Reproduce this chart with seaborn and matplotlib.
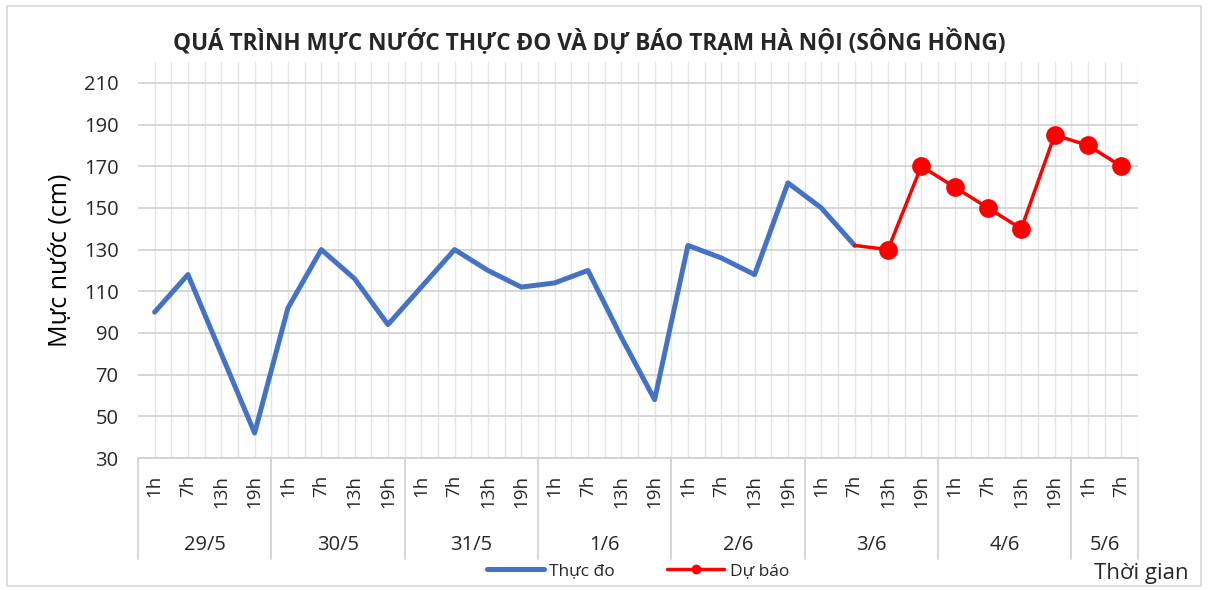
"""Mực nước thực đo và dự báo trạm Hà Nội (sông Hồng)."""

import matplotlib
matplotlib.use("Agg")
import matplotlib.pyplot as plt
import matplotlib.transforms as mtransforms
from matplotlib.lines import Line2D
from matplotlib.patches import Rectangle
import pandas as pd
import seaborn as sns

days = ["29/5", "30/5", "31/5", "1/6", "2/6", "3/6", "4/6", "5/6"]
hours_per_day = [4, 4, 4, 4, 4, 4, 4, 2]
hours = ["1h", "7h", "13h", "19h"]

observed = [100, 118, 80, 42, 102, 130, 116, 94, 112, 130, 120, 112,
            114, 120, 88, 58, 132, 126, 118, 162, 150, 132]
forecast = [132, 130, 170, 160, 150, 140, 185, 180, 170]
forecast_start = len(observed) - 1

y_ticks = [30, 50, 70, 90, 110, 130, 150, 170, 190, 210]

tick_labels = [h for n in hours_per_day for h in hours[:n]]
n_cat = len(tick_labels)

obs_df = pd.DataFrame({"x": range(len(observed)), "y": observed})
fc_df = pd.DataFrame({"x": range(forecast_start, forecast_start + len(forecast)),
                      "y": forecast})

sns.set_style("white")
plt.rcParams["font.family"] = ["Open Sans", "DejaVu Sans"]

fig = plt.figure(figsize=(12.08, 5.90), dpi=100)
ax = fig.add_axes([0.1142, 0.2237, 0.8278, 0.6712])

blue = "#4472C4"
red = "#FF0000"
text_col = "#262626"

sns.lineplot(data=obs_df, x="x", y="y", ax=ax, color=blue, linewidth=3.6,
             solid_capstyle="round", solid_joinstyle="round")
sns.lineplot(data=fc_df, x="x", y="y", ax=ax, color=red, linewidth=2.5,
             marker="o", markersize=13.5, markeredgewidth=0,
             markevery=list(range(1, len(forecast))))

ax.set_xlim(-0.5, n_cat - 0.5)
ax.set_ylim(30, 220)
ax.set_yticks(y_ticks)
ax.set_yticklabels([str(v) for v in y_ticks], fontsize=14.5, color=text_col)

# vertical grid at every category centre and boundary
for i in range(n_cat):
    ax.axvline(i, color="#e4e4e4", linewidth=1, zorder=0)
    ax.axvline(i + 0.5, color="#e4e4e4", linewidth=1, zorder=0)
for v in y_ticks:
    ax.axhline(v, color="#d0d0d0", linewidth=1.2, zorder=0.5)

ax.set_xticks(range(n_cat))
ax.set_xticklabels(tick_labels, rotation=90, fontsize=13.5, color=text_col)
ax.tick_params(axis="x", length=0, pad=12)
ax.tick_params(axis="y", length=0, pad=14)

for side in ["top", "right", "left"]:
    ax.spines[side].set_visible(False)
ax.spines["bottom"].set_color("#d0d0d0")
ax.spines["bottom"].set_linewidth(1.2)

ax.set_xlabel("")
ax.set_ylabel("Mực nước (cm)", fontsize=18, color="black", labelpad=8)

# second category level: days
trans = mtransforms.blended_transform_factory(ax.transData, ax.transAxes)
start = 0
bounds = [-0.5]
for day, n in zip(days, hours_per_day):
    ax.text(start + (n - 1) / 2, -0.22, day, transform=trans, ha="center",
            va="center", fontsize=14.5, color=text_col)
    start += n
    bounds.append(start - 0.5)
for b in bounds:
    ax.add_line(Line2D([b, b], [0, -0.255], transform=trans, color="#d0d0d0",
                       linewidth=1.2, clip_on=False))

fig.suptitle("QUÁ TRÌNH MỰC NƯỚC THỰC ĐO VÀ DỰ BÁO TRẠM HÀ NỘI (SÔNG HỒNG)",
             x=0.488, y=0.952, fontsize=16.3, fontweight="bold")

handles = [
    Line2D([], [], color=blue, linewidth=3.6),
    Line2D([], [], color=red, linewidth=2.5, marker="o", markersize=6),
]
fig.legend(handles, ["Thực đo", "Dự báo"], loc="center",
           bbox_to_anchor=(0.528, 0.032), ncol=2, frameon=False, fontsize=12.5,
           handlelength=3.3, columnspacing=3, handletextpad=0.3)

fig.text(0.984, 0.028, "Thời gian", ha="right", va="center", fontsize=16,
         color=text_col)

fig.add_artist(Rectangle((0.006, 0.006), 0.988, 0.984, transform=fig.transFigure,
                         fill=False, edgecolor="#d9d9d9", linewidth=1.2))

fig.savefig("out.png", dpi=100)
